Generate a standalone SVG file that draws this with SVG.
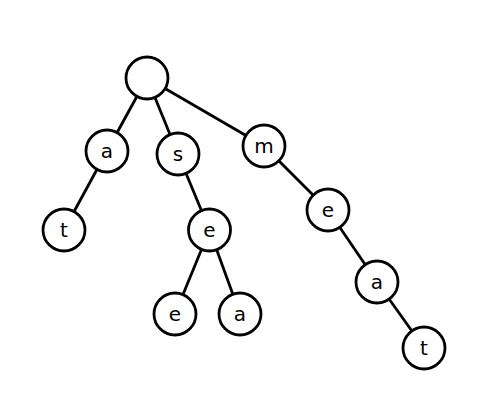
<svg xmlns="http://www.w3.org/2000/svg" width="492" height="405" viewBox="0 0 492 405">
<style>
.n circle{fill:#fff;stroke:#000;stroke-width:2.8}
.n text{font-family:"DejaVu Sans",sans-serif;font-size:20px;fill:#000;text-anchor:middle}
#edges line{stroke:#000;stroke-width:2.8}
</style>
<rect width="492" height="405" fill="#fff"/>
<g id="edges">
<line x1="147" y1="78" x2="107" y2="151"/>
<line x1="147" y1="78" x2="178" y2="154"/>
<line x1="147" y1="78" x2="264" y2="146"/>
<line x1="107" y1="151" x2="64" y2="230"/>
<line x1="178" y1="154" x2="209.5" y2="230"/>
<line x1="209.5" y1="230" x2="175" y2="314"/>
<line x1="209.5" y1="230" x2="240" y2="314"/>
<line x1="264" y1="146" x2="328" y2="210"/>
<line x1="328" y1="210" x2="377" y2="282"/>
<line x1="377" y1="282" x2="424" y2="348"/>
</g>
<g id="root" class="n"><circle cx="147" cy="78" r="21"/></g>
<g id="n_a" class="n"><circle cx="107" cy="151" r="21"/><text x="107" y="158">a</text></g>
<g id="n_s" class="n"><circle cx="178" cy="154" r="21"/><text x="178" y="161">s</text></g>
<g id="n_m" class="n"><circle cx="264" cy="146" r="21"/><text x="264" y="153">m</text></g>
<g id="n_at" class="n"><circle cx="64" cy="230" r="21"/><text x="64" y="237">t</text></g>
<g id="n_se" class="n"><circle cx="209.5" cy="230" r="21"/><text x="209.5" y="237">e</text></g>
<g id="n_see" class="n"><circle cx="175" cy="314" r="21"/><text x="175" y="321">e</text></g>
<g id="n_sea" class="n"><circle cx="240" cy="314" r="21"/><text x="240" y="321">a</text></g>
<g id="n_me" class="n"><circle cx="328" cy="210" r="21"/><text x="328" y="217">e</text></g>
<g id="n_mea" class="n"><circle cx="377" cy="282" r="21"/><text x="377" y="289">a</text></g>
<g id="n_meat" class="n"><circle cx="424" cy="348" r="21"/><text x="424" y="355">t</text></g>
</svg>
